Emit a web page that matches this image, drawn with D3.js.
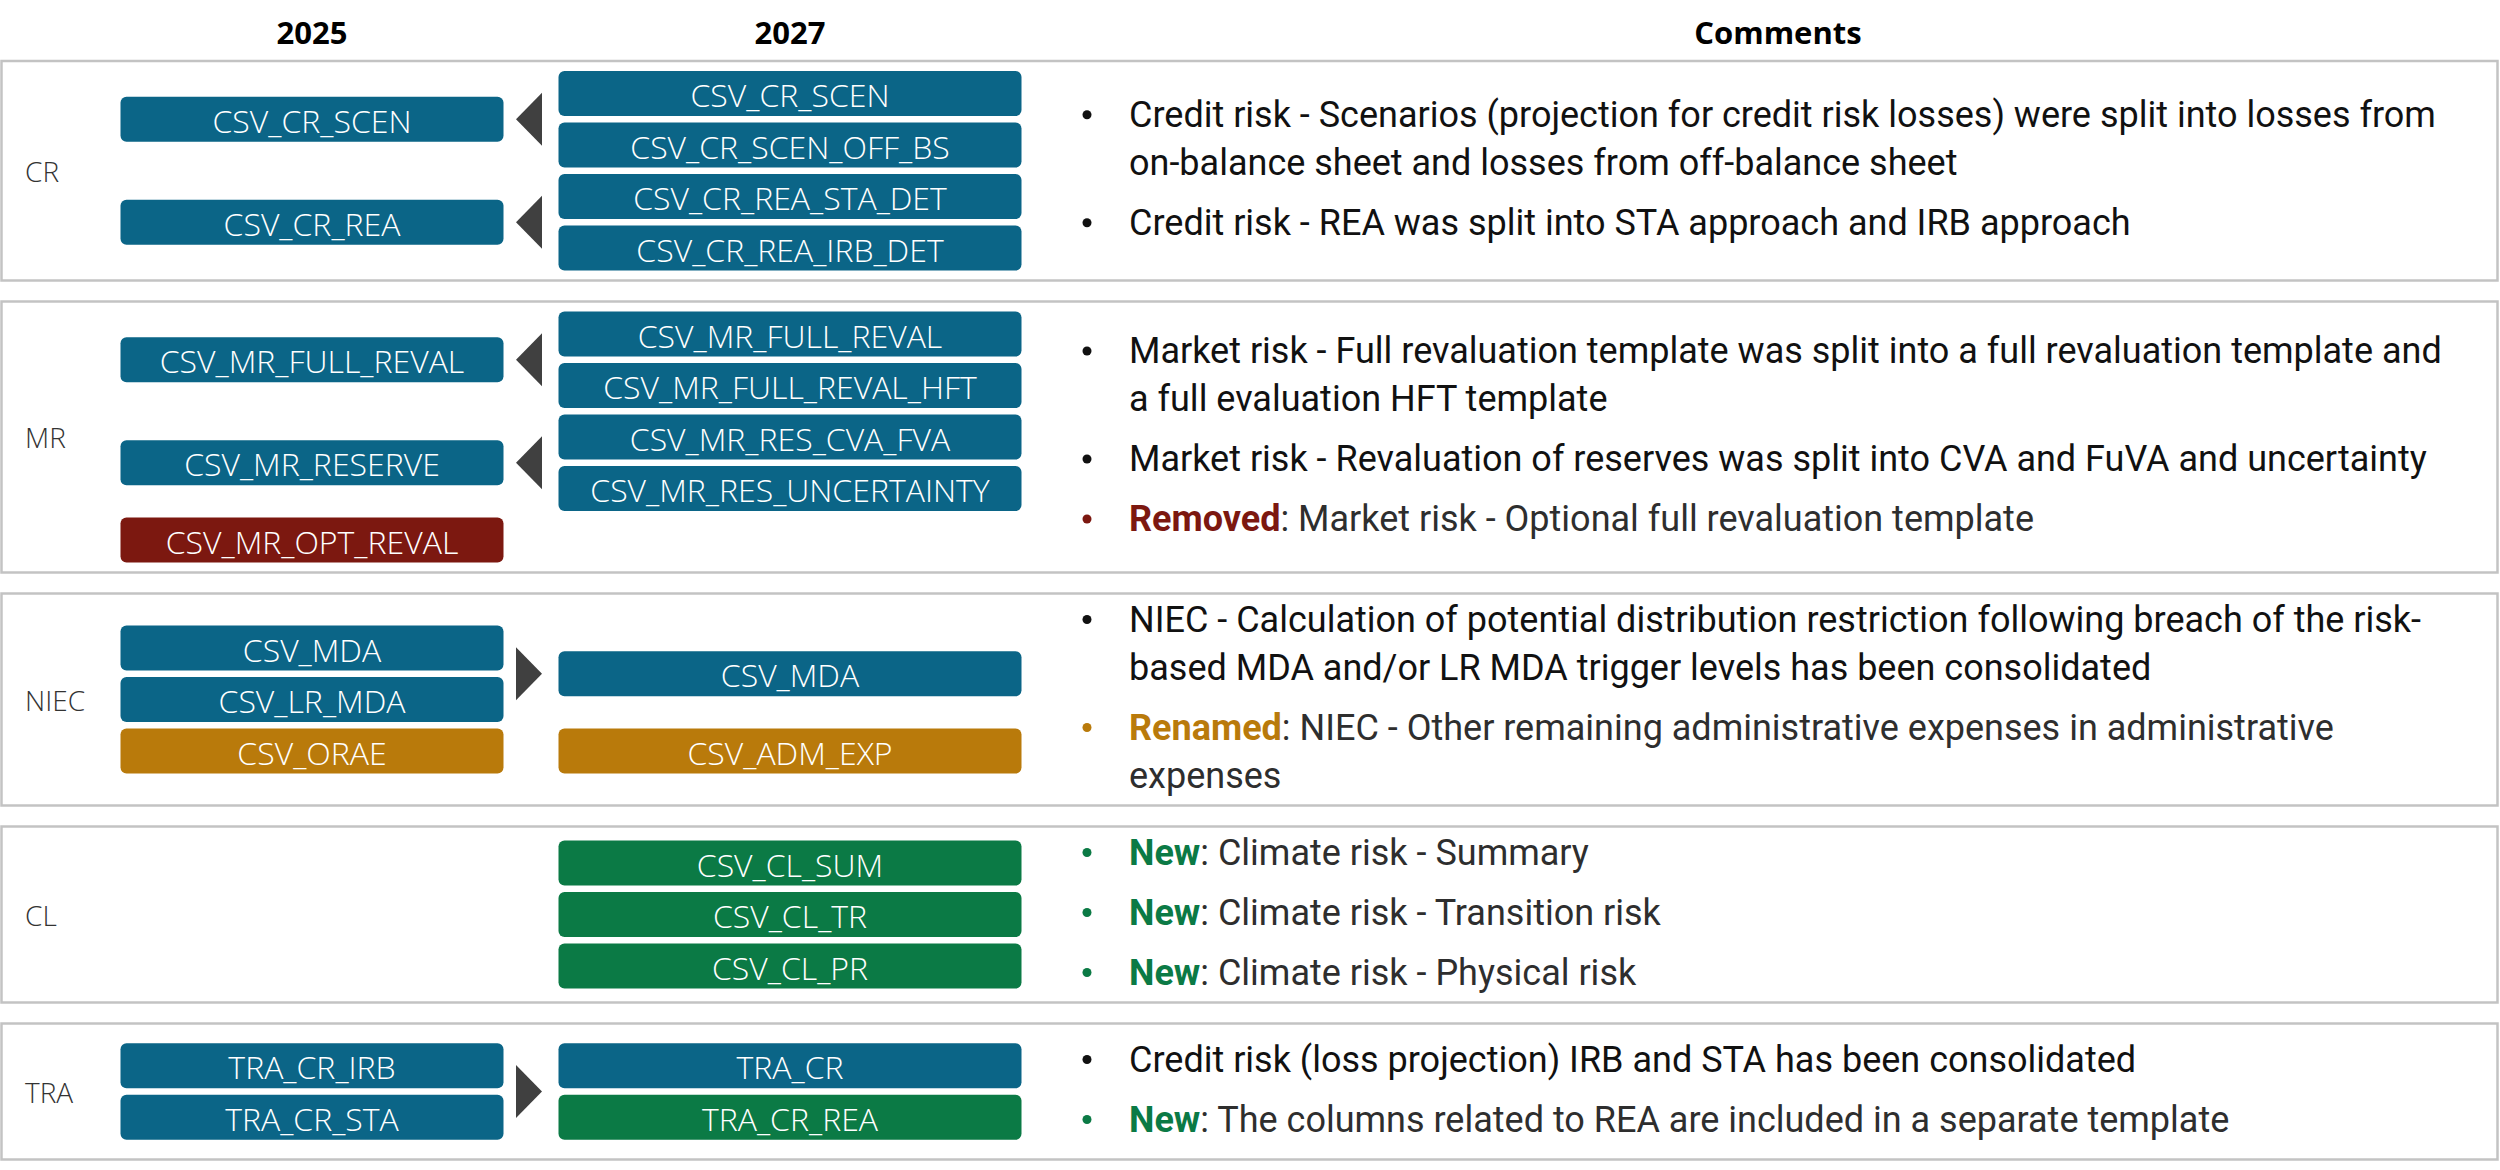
<!DOCTYPE html>
<html>
<head>
<meta charset="utf-8">
<script src="https://cdn.jsdelivr.net/npm/d3@7"></script>
<style>
  body { margin: 0; background: #fff; }
  svg { display: block; }
</style>
</head>
<body>
<svg id="chart"></svg>
<script>
const width = 2500;
const height = 1170;

// column headers
const columns = ["2025", "2027", "Comments"];

// sections (rows of the table)
const sections = ["CR", "MR", "NIEC", "CL", "TRA"];

// template groups: which 2025 templates map to which 2027 templates
const groupSection = ["CR", "CR", "MR", "MR", "MR", "NIEC", "NIEC", "CL", "TRA"];
const groupFrom = [
  ["CSV_CR_SCEN"],
  ["CSV_CR_REA"],
  ["CSV_MR_FULL_REVAL"],
  ["CSV_MR_RESERVE"],
  ["CSV_MR_OPT_REVAL"],
  ["CSV_MDA", "CSV_LR_MDA"],
  ["CSV_ORAE"],
  [],
  ["TRA_CR_IRB", "TRA_CR_STA"]
];
const groupTo = [
  ["CSV_CR_SCEN", "CSV_CR_SCEN_OFF_BS"],
  ["CSV_CR_REA_STA_DET", "CSV_CR_REA_IRB_DET"],
  ["CSV_MR_FULL_REVAL", "CSV_MR_FULL_REVAL_HFT"],
  ["CSV_MR_RES_CVA_FVA", "CSV_MR_RES_UNCERTAINTY"],
  [],
  ["CSV_MDA"],
  ["CSV_ADM_EXP"],
  ["CSV_CL_SUM", "CSV_CL_TR", "CSV_CL_PR"],
  ["TRA_CR", "TRA_CR_REA"]
];
// split = arrow points back to 2025, merge = arrow points to 2027
const groupArrow = ["split", "split", "split", "split", null, "merge", null, null, "merge"];

// template status
const removedTemplates = ["CSV_MR_OPT_REVAL"];
const renamedTemplates = ["CSV_ORAE", "CSV_ADM_EXP"];
const newTemplates = ["CSV_CL_SUM", "CSV_CL_TR", "CSV_CL_PR", "TRA_CR_REA"];

// comments
const commentSection = ["CR", "CR", "MR", "MR", "MR", "NIEC", "NIEC", "CL", "CL", "CL", "TRA", "TRA"];
const commentTag = [null, null, null, null, "Removed", null, "Renamed", "New", "New", "New", null, "New"];
const commentText = [
  "Credit risk - Scenarios (projection for credit risk losses) were split into losses from\non-balance sheet and losses from off-balance sheet",
  "Credit risk - REA was split into STA approach and IRB approach",
  "Market risk - Full revaluation template was split into a full revaluation template and\na full evaluation HFT template",
  "Market risk - Revaluation of reserves was split into CVA and FuVA and uncertainty",
  "Market risk - Optional full revaluation template",
  "NIEC - Calculation of potential distribution restriction following breach of the risk-\nbased MDA and/or LR MDA trigger levels has been consolidated",
  "NIEC - Other remaining administrative expenses in administrative\nexpenses",
  "Climate risk - Summary",
  "Climate risk - Transition risk",
  "Climate risk - Physical risk",
  "Credit risk (loss projection) IRB and STA has been consolidated",
  "The columns related to REA are included in a separate template"
];

// colours
const statusColor = { base: "#0b6587", removed: "#7c1810", renamed: "#b97a0b", new: "#0b7a45" };
const tagColor = { Removed: "#7c1810", Renamed: "#b97a0b", New: "#0b7a45" };

function statusOf(name) {
  if (removedTemplates.includes(name)) return "removed";
  if (renamedTemplates.includes(name)) return "renamed";
  if (newTemplates.includes(name)) return "new";
  return "base";
}

// layout
const colX = d3.scaleOrdinal().domain(columns).range([312, 790, 1778]);
const boxWidth = { "2025": 383, "2027": 463 };
const slotPitch = 51.5;
const boxH = 45;
const lineH = 48;
const paraGap = 12;
const firstTop = 61;
const sectionGap = 21;
const minSectionH = 136;
const arrowX = [516, 542];
const arrowH = 53;
const bulletX = 1087;
const textX = 1129;

const svg = d3.select("#chart").attr("width", width).attr("height", height);

// header
svg.selectAll("text.header")
  .data(columns)
  .enter()
  .append("text")
  .attr("class", "header")
  .attr("x", d => colX(d))
  .attr("y", 44)
  .attr("text-anchor", "middle")
  .style("font-family", "'Open Sans', 'Noto Sans', sans-serif")
  .style("font-weight", 700)
  .style("font-size", "31px")
  .style("fill", "#000")
  .text(d => d);

// build section info
const sectionInfo = sections.map(s => {
  const groups = [];
  groupSection.forEach((g, i) => {
    if (g === s) groups.push({ from: groupFrom[i], to: groupTo[i], arrow: groupArrow[i] });
  });
  const comments = [];
  commentSection.forEach((c, i) => {
    if (c === s) comments.push({ tag: commentTag[i], lines: commentText[i].split("\n") });
  });
  const slots = d3.sum(groups, g => Math.max(g.from.length, g.to.length));
  const nLines = d3.sum(comments, c => c.lines.length);
  const boxesH = slots * slotPitch - (slotPitch - boxH);
  const textH = nLines * lineH + (comments.length - 1) * paraGap;
  const h = Math.max(boxesH + 20, textH + 8, minSectionH);
  return { name: s, groups, comments, slots, boxesH, textH, h };
});

let cursor = firstTop;
sectionInfo.forEach(s => {
  s.top = cursor;
  s.center = cursor + s.h / 2;
  cursor += s.h + sectionGap;
});

const sectionG = svg.selectAll("g.section")
  .data(sectionInfo)
  .enter()
  .append("g")
  .attr("class", "section");

sectionG.append("rect")
  .attr("x", 1.5)
  .attr("y", d => d.top)
  .attr("width", width - 4)
  .attr("height", d => d.h)
  .style("fill", "#fff")
  .style("stroke", "#c3c3c3")
  .style("stroke-width", 2.5);

sectionG.append("text")
  .attr("x", 25)
  .attr("y", d => d.center)
  .attr("dominant-baseline", "central")
  .style("font-family", "'Open Sans', 'Noto Sans', sans-serif")
  .style("font-weight", 300)
  .style("font-size", "28px")
  .style("fill", "#333")
  .text(d => d.name);

sectionG.each(function (s) {
  const g = d3.select(this);
  const y = d3.scaleLinear()
    .domain([0, s.slots])
    .range([s.center - s.boxesH / 2, s.center - s.boxesH / 2 + s.slots * slotPitch]);

  const boxes = [];
  const arrows = [];
  let slot = 0;
  s.groups.forEach(grp => {
    const n = Math.max(grp.from.length, grp.to.length);
    grp.from.forEach((name, i) => boxes.push({ name, col: "2025", slot: slot + (n - grp.from.length) / 2 + i }));
    grp.to.forEach((name, i) => boxes.push({ name, col: "2027", slot: slot + (n - grp.to.length) / 2 + i }));
    if (grp.arrow) arrows.push({ dir: grp.arrow, mid: y(slot) + (n * slotPitch - (slotPitch - boxH)) / 2 });
    slot += n;
  });

  g.selectAll("rect.box")
    .data(boxes)
    .enter()
    .append("rect")
    .attr("class", "box")
    .attr("x", d => colX(d.col) - boxWidth[d.col] / 2)
    .attr("y", d => y(d.slot))
    .attr("width", d => boxWidth[d.col])
    .attr("height", boxH)
    .attr("rx", 6)
    .style("fill", d => statusColor[statusOf(d.name)]);

  g.selectAll("text.box")
    .data(boxes)
    .enter()
    .append("text")
    .attr("class", "box")
    .attr("x", d => colX(d.col))
    .attr("y", d => y(d.slot) + boxH / 2 + 1)
    .attr("text-anchor", "middle")
    .attr("dominant-baseline", "central")
    .style("font-family", "'Open Sans', 'Noto Sans', sans-serif")
    .style("font-weight", 300)
    .style("font-size", "32px")
    .style("fill", "#fff")
    .text(d => d.name);

  g.selectAll("path.arrow")
    .data(arrows)
    .enter()
    .append("path")
    .attr("class", "arrow")
    .attr("d", d => {
      const [x0, x1] = arrowX;
      const tip = d.dir === "split" ? x0 : x1;
      const base = d.dir === "split" ? x1 : x0;
      return `M${base},${d.mid - arrowH / 2}L${tip},${d.mid}L${base},${d.mid + arrowH / 2}Z`;
    })
    .style("fill", "#404040");

  // comments
  let baseline = s.center - s.textH / 2 + 34;
  s.comments.forEach(c => {
    const col = c.tag ? tagColor[c.tag] : "#111";
    g.append("circle")
      .attr("cx", bulletX)
      .attr("cy", baseline - 12)
      .attr("r", 4.5)
      .style("fill", col);
    c.lines.forEach((line, li) => {
      const t = g.append("text")
        .attr("x", textX)
        .attr("y", baseline)
        .style("font-family", "Roboto, 'Noto Sans', sans-serif")
        .style("font-size", "36px")
        .style("fill", c.tag ? "#2e2e2e" : "#111");
      if (li === 0 && c.tag) {
        t.append("tspan").style("font-weight", 700).style("fill", col).text(c.tag);
        t.append("tspan").text(": " + line);
      } else {
        t.text(line);
      }
      baseline += lineH;
    });
    baseline += paraGap;
  });
});
</script>
</body>
</html>
